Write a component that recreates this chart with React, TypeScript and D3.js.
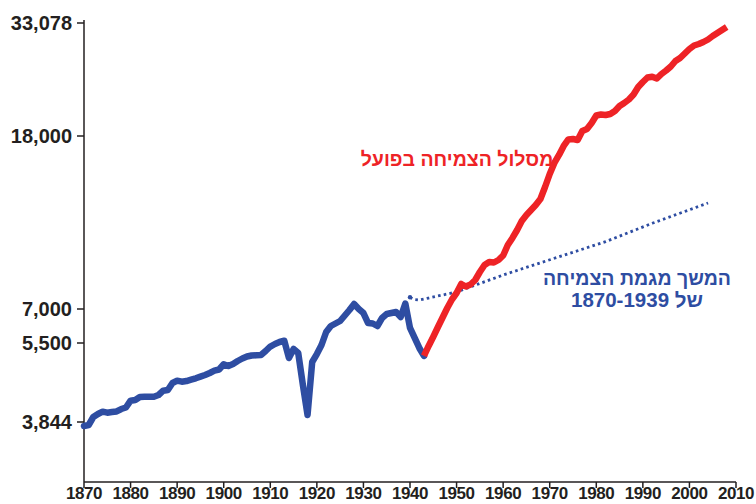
import React from "react";
import * as d3 from "d3";

const yTickValues = [3844, 5500, 7000, 18000, 33078];
const yTickLabels = ["3,844", "5,500", "7,000", "18,000", "33,078"];
const xTickYears = [1870, 1880, 1890, 1900, 1910, 1920, 1930, 1940, 1950, 1960, 1970, 1980, 1990, 2000, 2010];

const blueYears = [1870,1871,1872,1873,1874,1875,1876,1877,1878,1879,1880,1881,1882,1883,1884,1885,1886,1887,1888,1889,1890,1891,1892,1893,1894,1895,1896,1897,1898,1899,1900,1901,1902,1903,1904,1905,1906,1907,1908,1909,1910,1911,1912,1913,1914,1915,1916,1917,1918,1919,1920,1921,1922,1923,1924,1925,1926,1927,1928,1929,1930,1931,1932,1933,1934,1935,1936,1937,1938,1939,1940,1941,1942,1943];
const blueValues = [3775,3792,3932,3986,4028,4010,4022,4032,4077,4105,4234,4247,4306,4311,4311,4311,4345,4430,4445,4588,4636,4615,4629,4657,4687,4721,4757,4800,4851,4877,4994,4956,5001,5069,5127,5174,5197,5202,5209,5304,5413,5475,5539,5590,5138,5353,5256,4546,3968,5046,5232,5450,5947,6205,6316,6429,6685,6951,7194,7000,6804,6338,6316,6205,6567,6757,6804,6853,6614,7213,6118,5699,5377,5186];

const redYears = [1943,1944,1945,1946,1947,1948,1949,1950,1951,1952,1953,1954,1955,1956,1957,1958,1959,1960,1961,1962,1963,1964,1965,1966,1967,1968,1969,1970,1971,1972,1973,1974,1975,1976,1977,1978,1979,1980,1981,1982,1983,1984,1985,1986,1987,1988,1989,1990,1991,1992,1993,1994,1995,1996,1997,1998,1999,2000,2001,2002,2003,2004,2005,2006,2007,2008];
const redValues = [5186,5426,5751,6161,6591,7038,7373,7639,8024,7915,8002,8201,8567,8901,9048,9023,9147,9375,9927,10315,10775,11318,11695,12018,12351,12762,13627,14630,15536,16228,17046,17662,17710,17613,18491,18691,19305,20100,20210,20155,20264,20594,21157,21501,21910,22507,23436,24075,24665,24772,24532,25135,25612,26172,26957,27396,28069,28757,29304,29542,29862,30267,30841,31343,31855,32375];

const trendYears = [1940, 1941, 1942, 1944, 1947, 1950, 1960, 1971, 1982, 1992, 2004];
const trendValues = [7462, 7373, 7353, 7433, 7556, 7681, 8429, 9233, 10109, 11176, 12485];

const actualLabel = "מסלול הצמיחה בפועל";
const trendLabel1 = "המשך מגמת הצמיחה";
const trendLabel2 = "של 1870-1939";

const BLUE = "#2E4DA2";
const RED = "#EE2326";
const AXIS = "#231F20";

export default function App() {
  const W = 756, H = 504;
  const x = d3.scaleLinear().domain([1870, 2010]).range([84, 736]);
  const yl = d3.scaleLinear().domain(yTickValues.map(Math.log)).range([422, 343, 309, 136, 23]);
  const y = (v: number) => yl(Math.log(v));

  const line = d3.line<[number, number]>().x(d => x(d[0])).y(d => y(d[1]));
  const blue = line(blueYears.map((yr, i) => [yr, blueValues[i]]));
  const red = line(redYears.map((yr, i) => [yr, redValues[i]]));
  const trend = line(trendYears.map((yr, i) => [yr, trendValues[i]]));

  const axisY = 482;
  const font = "'Liberation Sans', Arial, Helvetica, sans-serif";

  return (
    <svg width={W} height={H} style={{ position: "absolute", left: 0, top: 0, background: "#fff" }}>
      <line x1={x(1870)} x2={x(1870)} y1={20} y2={axisY} stroke={AXIS} strokeWidth={1.5} />
      <line x1={x(1870)} x2={x(2010)} y1={axisY} y2={axisY} stroke={AXIS} strokeWidth={1.5} />
      {xTickYears.map(yr => (
        <g key={yr}>
          <line x1={x(yr)} x2={x(yr)} y1={axisY} y2={axisY + 6} stroke={AXIS} strokeWidth={1.5} />
          <text x={x(yr)} y={499} textAnchor="middle" fontFamily={font} fontSize={17} fontWeight="bold" fill={AXIS} letterSpacing={-0.4}>{yr}</text>
        </g>
      ))}
      {yTickValues.map((v, i) => (
        <g key={v}>
          <line x1={x(1870) - 7} x2={x(1870)} y1={y(v)} y2={y(v)} stroke={AXIS} strokeWidth={1.5} />
          <text x={72} y={y(v)} dy="0.36em" textAnchor="end" fontFamily={font} fontSize={20} fontWeight="bold" fill={AXIS}>{yTickLabels[i]}</text>
        </g>
      ))}

      <path d={trend ?? ""} fill="none" stroke={BLUE} strokeWidth={2.8} strokeDasharray="2.6 3.2" />
      <circle cx={x(trendYears[0])} cy={y(trendValues[0])} r={2.2} fill={BLUE} />
      <path d={blue ?? ""} fill="none" stroke={BLUE} strokeWidth={6.5} strokeLinejoin="round" strokeLinecap="round" />
      <path d={red ?? ""} fill="none" stroke={RED} strokeWidth={6.5} strokeLinejoin="round" strokeLinecap="butt" />

      <text x={457} y={166} textAnchor="middle" direction="rtl" fontFamily={font} fontSize={19.5} fontWeight="bold" fill={RED}>{actualLabel}</text>
      <text x={637} y={285} textAnchor="middle" direction="rtl" fontFamily={font} fontSize={19.5} fontWeight="bold" fill={BLUE}>{trendLabel1}</text>
      <text x={637} y={307} textAnchor="middle" direction="rtl" fontFamily={font} fontSize={20.5} fontWeight="bold" fill={BLUE}>{trendLabel2}</text>
    </svg>
  );
}
